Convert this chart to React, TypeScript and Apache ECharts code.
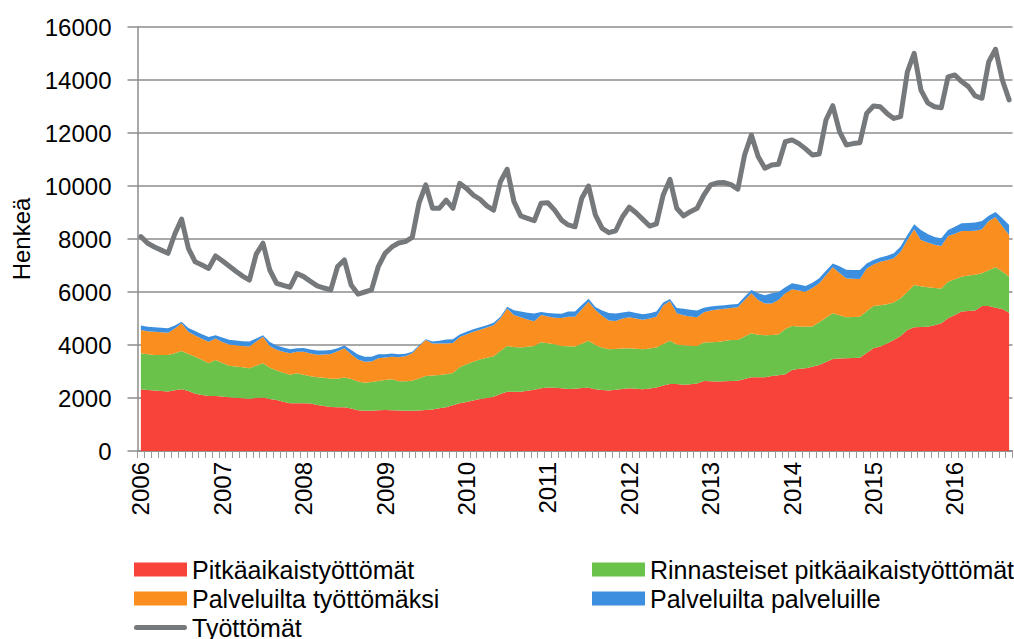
import React, { useEffect, useRef } from "react";
import * as echarts from "echarts";

const years = ["2006", "2007", "2008", "2009", "2010", "2011", "2012", "2013", "2014", "2015", "2016"];
const months = ["01", "02", "03", "04", "05", "06", "07", "08", "09", "10", "11", "12"];
const categories: string[] = [];
years.forEach((y) => months.forEach((m) => categories.push(`${y}-${m}`)));
categories.splice(129);

const pitkaaikaiset = [
  2330, 2300, 2280, 2260, 2250, 2290, 2330, 2260, 2160, 2110, 2080, 2080,
  2060, 2030, 2010, 1990, 1970, 2000, 2020, 1960, 1920, 1860, 1800, 1800,
  1800, 1790, 1740, 1700, 1660, 1650, 1650, 1600, 1540, 1520, 1520, 1540,
  1550, 1540, 1530, 1520, 1520, 1530, 1550, 1570, 1610, 1650, 1730, 1800,
  1850, 1910, 1960, 2000, 2050, 2150, 2240, 2240, 2240, 2270, 2310, 2370,
  2400, 2390, 2370, 2340, 2350, 2380, 2390, 2330, 2300, 2280, 2310, 2340,
  2370, 2350, 2330, 2360, 2400, 2470, 2530, 2530, 2500, 2520, 2550, 2640,
  2630, 2620, 2630, 2640, 2650, 2720, 2780, 2780, 2780, 2830, 2860, 2900,
  3060, 3100, 3120, 3180, 3250, 3360, 3470, 3490, 3500, 3510, 3520, 3700,
  3880, 3940, 4060, 4190, 4340, 4570, 4670, 4680, 4690, 4750, 4820, 5010,
  5130, 5260, 5280, 5300, 5470, 5470, 5410, 5360, 5220,
];

const rinnasteiset = [
  1360, 1350, 1340, 1360, 1370, 1400, 1440, 1400, 1400, 1330, 1230, 1350,
  1260, 1190, 1180, 1170, 1150, 1220, 1290, 1180, 1120, 1090, 1080, 1130,
  1080, 1030, 1040, 1060, 1070, 1080, 1120, 1120, 1080, 1060, 1080, 1100,
  1130, 1170, 1100, 1110, 1130, 1210, 1280, 1280, 1260, 1250, 1210, 1360,
  1420, 1460, 1490, 1520, 1530, 1620, 1720, 1680, 1670, 1660, 1650, 1730,
  1670, 1640, 1590, 1610, 1590, 1670, 1770, 1670, 1600, 1560, 1540, 1530,
  1510, 1510, 1510, 1510, 1510, 1570, 1630, 1490, 1490, 1450, 1410, 1450,
  1470, 1490, 1520, 1550, 1540, 1600, 1660, 1610, 1590, 1550, 1540, 1700,
  1660, 1600, 1570, 1520, 1610, 1670, 1730, 1630, 1550, 1550, 1550, 1570,
  1590, 1560, 1480, 1410, 1420, 1430, 1590, 1540, 1490, 1400, 1310, 1380,
  1350, 1320, 1340, 1350, 1240, 1350, 1520, 1410, 1360,
];

const palveluiltaTyottomaksi = [
  880, 870, 880, 860, 840, 930, 1050, 840, 800, 800, 810, 820,
  790, 800, 800, 800, 820, 910, 1000, 820, 780, 800, 810, 820,
  870, 860, 850, 880, 930, 1030, 1110, 930, 830, 790, 780, 860,
  850, 850, 910, 950, 1040, 1210, 1360, 1210, 1190, 1160, 1140, 1140,
  1130, 1130, 1130, 1140, 1170, 1230, 1420, 1210, 1140, 1030, 940, 1030,
  1010, 1000, 1060, 1120, 1130, 1300, 1470, 1320, 1200, 1080, 1060, 1130,
  1170, 1140, 1110, 1130, 1160, 1450, 1500, 1180, 1130, 1110, 1090, 1150,
  1200, 1230, 1220, 1210, 1230, 1380, 1510, 1310, 1200, 1190, 1300, 1350,
  1380, 1360, 1320, 1450, 1470, 1600, 1730, 1600, 1470, 1440, 1420, 1620,
  1570, 1640, 1660, 1670, 1760, 1960, 2110, 1740, 1690, 1630, 1610, 1720,
  1720, 1720, 1680, 1660, 1660, 1860, 1890, 1710, 1570,
];

const palveluiltaPalveluille = [
  170, 170, 170, 170, 170, 120, 60, 140, 170, 170, 180, 120,
  170, 180, 180, 180, 190, 120, 60, 150, 160, 160, 150, 130,
  140, 150, 160, 150, 150, 120, 100, 160, 190, 190, 180, 150,
  120, 120, 110, 90, 60, 40, 30, 70, 100, 150, 140, 100,
  100, 90, 90, 90, 90, 70, 60, 180, 210, 260, 290, 120,
  130, 160, 160, 190, 190, 160, 120, 110, 200, 290, 280, 230,
  210, 210, 210, 200, 190, 110, 75, 200, 250, 250, 250, 170,
  150, 140, 130, 130, 125, 120, 125, 250, 310, 380, 300, 225,
  230, 220, 215, 200, 190, 170, 150, 250, 315, 330, 340, 190,
  170, 160, 170, 190, 200, 190, 190, 380, 320, 300, 290, 230,
  260, 290, 300, 310, 310, 200, 200, 300, 380,
];

const tyottomat = [
  8090, 7840, 7700, 7580, 7460, 8190, 8750, 7650, 7140, 7020, 6890, 7360,
  7180, 6980, 6780, 6600, 6450, 7430, 7840, 6830, 6330, 6250, 6180, 6700,
  6580, 6400, 6230, 6150, 6080, 6960, 7210, 6260, 5920, 6000, 6080, 6960,
  7460, 7700, 7850, 7900, 8060, 9350, 10040, 9160, 9160, 9470, 9160, 10100,
  9910, 9660, 9500, 9250, 9090, 10160, 10630, 9410, 8870, 8780, 8690, 9350,
  9370, 9090, 8720, 8530, 8460, 9540, 10000, 8910, 8400, 8240, 8310, 8840,
  9200, 8990, 8740, 8490, 8570, 9660, 10250, 9160, 8870, 9030, 9160, 9660,
  10040, 10120, 10130, 10050, 9880, 11170, 11920, 11110, 10670, 10790, 10820, 11670,
  11740, 11600, 11400, 11170, 11210, 12490, 13030, 12050, 11550, 11600, 11630, 12740,
  13020, 12990, 12740, 12550, 12620, 14310, 15010, 13620, 13140, 12990, 12950, 14120,
  14190, 13940, 13750, 13400, 13310, 14690, 15160, 14000, 13250,
];

const yTicks = { min: 0, max: 16000, interval: 2000 };

const FONT = "'Liberation Sans', Arial, sans-serif";
const GRID_COLOR = "#8c8c8c";
const LINE_COLOR = "#76797B";
const LINE_ICON =
  "path://M0,0L0.01,0M0,14L0.01,14M2.5,4.5L50.5,4.5A2.5,2.5,0,0,1,50.5,9.5L2.5,9.5A2.5,2.5,0,0,1,2.5,4.5Z";

export default function App() {
  const ref = useRef<HTMLDivElement>(null);
  useEffect(() => {
    if (!ref.current) return;
    const chart = echarts.init(ref.current, null, { renderer: "svg" });
    const area = (name: string, data: number[], color: string) => ({
      name,
      type: "line",
      stack: "total",
      data,
      symbol: "none",
      lineStyle: { width: 0, color },
      itemStyle: { color },
      areaStyle: { color, opacity: 1 },
      z: 2,
    });
    const legendText = { fontSize: 25, lineHeight: 20, color: "#000", fontFamily: FONT };
    const legendBase = {
      top: 557,
      height: 110,
      padding: 0,
      orient: "vertical",
      itemWidth: 53,
      itemHeight: 14,
      itemGap: 4,
      textStyle: legendText,
    };
    chart.setOption({
      animation: false,
      textStyle: { fontFamily: FONT },
      grid: { left: 137.5, right: 1.5, top: 27, bottom: 188, containLabel: false },
      legend: [
        {
          ...legendBase,
          left: 134,
          data: [
            { name: "Pitkäaikaistyöttömät", icon: "rect" },
            { name: "Palveluilta työttömäksi", icon: "rect" },
            { name: "Työttömät", icon: LINE_ICON, itemStyle: { color: LINE_COLOR, borderWidth: 0 } },
          ],
        },
        {
          ...legendBase,
          left: 592,
          data: [
            { name: "Rinnasteiset pitkäaikaistyöttömät", icon: "rect" },
            { name: "Palveluilta palveluille", icon: "rect" },
          ],
        },
      ],
      xAxis: {
        type: "category",
        data: categories,
        boundaryGap: true,
        axisLine: { show: true, lineStyle: { color: GRID_COLOR, width: 1.5 } },
        axisTick: { show: true, interval: 0, length: 7, lineStyle: { color: "#9a9a9a", width: 1 } },
        axisLabel: {
          interval: (idx: number) => idx % 12 === 0,
          rotate: 90,
          margin: 11,
          fontSize: 24,
          color: "#000",
          fontFamily: FONT,
          formatter: (v: string) => v.slice(0, 4),
        },
        splitLine: { show: false },
      },
      yAxis: {
        type: "value",
        min: yTicks.min,
        max: yTicks.max,
        interval: yTicks.interval,
        name: "Henkeä",
        nameLocation: "middle",
        nameGap: 104,
        nameTextStyle: { fontSize: 24, color: "#000", fontFamily: FONT },
        axisLine: { show: true, lineStyle: { color: GRID_COLOR, width: 1.5 } },
        axisTick: { show: true, length: 10, lineStyle: { color: GRID_COLOR, width: 1.5 } },
        axisLabel: {
          fontSize: 24,
          color: "#000",
          margin: 26,
          fontFamily: FONT,
          formatter: (v: number) => String(v),
        },
        splitLine: { show: true, lineStyle: { color: GRID_COLOR, width: 1.5 } },
      },
      series: [
        area("Pitkäaikaistyöttömät", pitkaaikaiset, "#F8433B"),
        area("Rinnasteiset pitkäaikaistyöttömät", rinnasteiset, "#6AC24B"),
        area("Palveluilta työttömäksi", palveluiltaTyottomaksi, "#FA8E1F"),
        area("Palveluilta palveluille", palveluiltaPalveluille, "#3C8FDF"),
        {
          name: "Työttömät",
          type: "line",
          data: tyottomat,
          symbol: "none",
          lineStyle: { width: 5, color: LINE_COLOR, cap: "round", join: "round" },
          itemStyle: { color: LINE_COLOR },
          z: 5,
        },
      ],
    });
    return () => chart.dispose();
  }, []);
  return (
    <div
      ref={ref}
      style={{ position: "fixed", left: 0, top: 0, width: 1014, height: 639, background: "#fff" }}
    />
  );
}
